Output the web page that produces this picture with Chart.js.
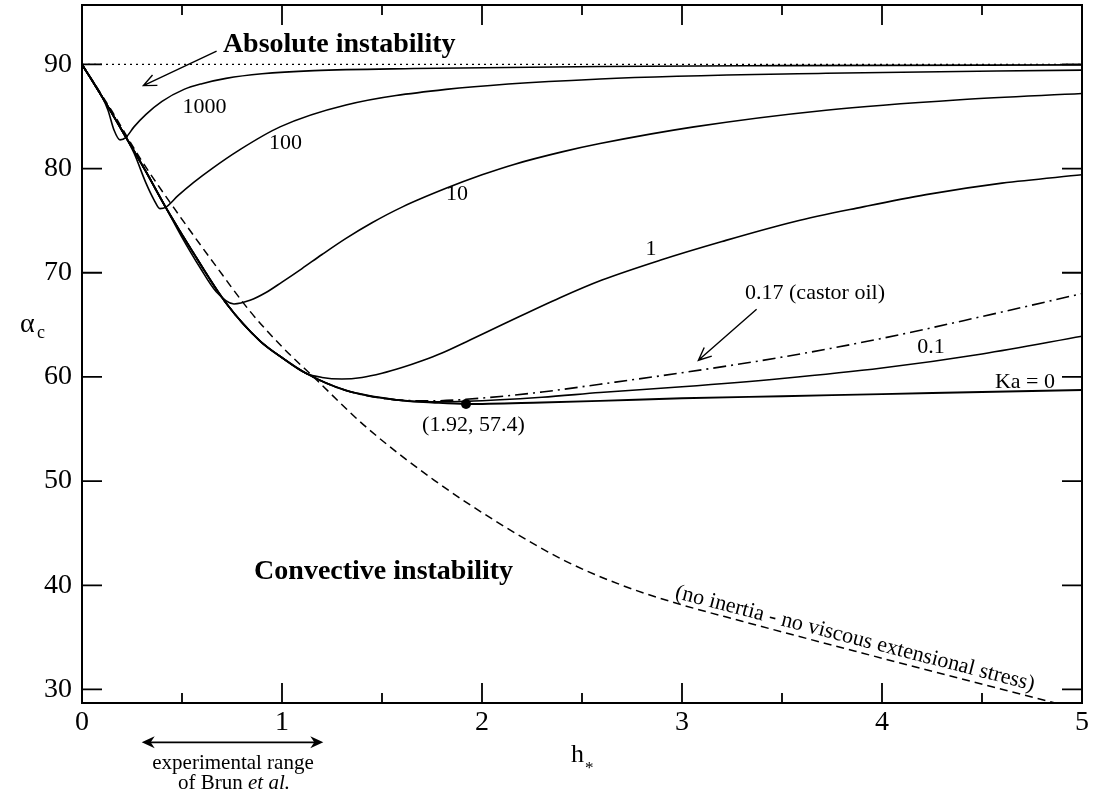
<!DOCTYPE html>
<html>
<head>
<meta charset="utf-8">
<script src="https://cdn.jsdelivr.net/npm/chart.js@4/dist/chart.umd.min.js"></script>
<style>
  html, body { margin: 0; padding: 0; background: #fff; }
  canvas { display: block; }
</style>
</head>
<body>
<canvas id="alphaChart" width="1093" height="796"></canvas>
<script>
// critical angle alpha_c vs h_* for several Ka values

const hTicks = [0, 1, 2, 3, 4, 5];
const alphaTicks = [30, 40, 50, 60, 70, 80, 90];

// alpha = 90 (dotted)
const vertical = [[0, 90], [5, 90]];

// Ka = 0 (also the envelope the other curves leave from)
const ka0 = [[0, 90], [0.1, 86.9], [0.22, 83.0], [0.32, 79.7], [0.415, 76.4], [0.57, 71.5], [0.72, 67.1],
    [0.89, 63.45], [1.0, 61.85], [1.12, 60.35], [1.32, 58.7], [1.57, 57.8], [1.75, 57.55], [1.92, 57.4],
    [2.3, 57.55], [2.59, 57.7], [3.0, 57.95], [3.5, 58.15], [4.0, 58.35], [4.5, 58.55], [5.0, 58.75]];

const ka01 = [[0, 90], [0.1, 86.9], [0.22, 83.0], [0.32, 79.7], [0.415, 76.4], [0.57, 71.5], [0.72, 67.1],
    [0.89, 63.45], [1.0, 61.85], [1.12, 60.35], [1.32, 58.7], [1.57, 57.8], [1.75, 57.6], [1.92, 57.65],
    [2.3, 58.05], [2.59, 58.5], [3.0, 59.05], [3.5, 59.85], [4.0, 60.85], [4.5, 62.2], [5.0, 63.9]];

// castor oil, Ka = 0.17 (dash-dot)
const ka017 = [[0, 90], [0.1, 86.9], [0.22, 83.0], [0.32, 79.7], [0.415, 76.4], [0.57, 71.5], [0.72, 67.1],
    [0.89, 63.45], [1.0, 61.85], [1.12, 60.35], [1.32, 58.7], [1.57, 57.8], [1.75, 57.7], [1.92, 57.85],
    [2.3, 58.55], [2.59, 59.3], [3.0, 60.4], [3.5, 61.9], [4.0, 63.7], [4.5, 65.8], [5.0, 68.0]];

const ka1 = [[0, 90], [0.1, 86.9], [0.22, 83.0], [0.32, 79.7], [0.415, 76.4], [0.57, 71.5], [0.72, 67.1],
    [0.89, 63.45], [1.0, 61.85], [1.12, 60.35], [1.2, 59.95], [1.3, 59.8], [1.4, 59.95], [1.5, 60.35],
    [1.6, 60.9], [1.7, 61.55], [1.8, 62.3], [1.94, 63.55], [2.1, 65.0], [2.39, 67.6], [2.6, 69.3],
    [2.89, 71.2], [3.2, 73.0], [3.56, 74.9], [3.9, 76.3], [4.22, 77.5], [4.6, 78.6], [5.0, 79.4]];

const ka10 = [[0, 90], [0.1, 86.9], [0.22, 83.0], [0.32, 79.7], [0.415, 76.4], [0.5, 73.4], [0.59, 70.5],
    [0.67, 68.2], [0.76, 67.0], [0.84, 67.35], [0.92, 68.1], [1.0, 69.1], [1.1, 70.4], [1.2, 71.75],
    [1.32, 73.3], [1.45, 74.8], [1.6, 76.3], [1.82, 78.1], [2.0, 79.4], [2.16, 80.4], [2.4, 81.6],
    [2.59, 82.4], [3.06, 84.0], [3.72, 85.6], [4.39, 86.6], [5.0, 87.2]];

const ka100 = [[0, 90], [0.1, 86.9], [0.22, 83.0], [0.26, 81.5], [0.32, 78.6], [0.36, 77.0], [0.39, 76.15],
    [0.42, 76.3], [0.48, 77.4], [0.56, 78.7], [0.65, 80.0], [0.78, 81.7], [0.99, 84.0], [1.32, 86.1],
    [1.82, 87.6], [2.59, 88.6], [3.72, 89.15], [5.0, 89.45]];

const ka1000 = [[0, 90], [0.1, 86.9], [0.13, 85.6], [0.16, 83.7], [0.19, 82.75], [0.22, 83.0], [0.26, 84.0],
    [0.32, 85.2], [0.4, 86.45], [0.51, 87.6], [0.6, 88.15], [0.72, 88.66], [0.9, 89.1], [1.16, 89.4],
    [1.66, 89.6], [2.59, 89.8], [3.5, 89.88], [5.0, 89.95]];

// no inertia - no viscous extensional stress (dashed)
const noInertia = [[0, 90], [0.15, 85.5], [0.29, 81.0], [0.49, 75.4], [0.66, 70.9], [0.84, 66.3], [1.0, 62.9],
    [1.16, 59.95], [1.42, 55.2], [1.76, 50.1], [2.09, 45.9], [2.42, 42.3], [2.7, 40.0], [2.95, 38.4],
    [3.3, 36.55], [3.9, 33.5], [4.4, 31.0], [4.765, 29.2], [5.0, 28.05]];

const minPoint = [[1.92, 57.4]];

const SERIF = "'Liberation Serif', 'Times New Roman', serif";

function pts(arr) {
    return arr.map(p => ({ x: p[0], y: p[1] }));
}

function curve(arr, extra) {
    return Object.assign({
        data: pts(arr),
        borderColor: '#000',
        borderWidth: 1.6,
        pointRadius: 0,
        fill: false,
        cubicInterpolationMode: 'monotone'
    }, extra || {});
}

function drawText(ctx, chart, str, h, a, font, align, baseline) {
    const x = chart.scales.x.getPixelForValue(h);
    const y = chart.scales.y.getPixelForValue(a);
    ctx.font = font;
    ctx.textAlign = align || 'center';
    ctx.textBaseline = baseline || 'alphabetic';
    ctx.fillText(str, x, y);
}

function openArrow(ctx, chart, h1, a1, h2, a2) {
    const sx = chart.scales.x, sy = chart.scales.y;
    const x1 = sx.getPixelForValue(h1), y1 = sy.getPixelForValue(a1);
    const x2 = sx.getPixelForValue(h2), y2 = sy.getPixelForValue(a2);
    const ang = Math.atan2(y2 - y1, x2 - x1);
    const len = 14, spread = 0.42;
    ctx.beginPath();
    ctx.moveTo(x1, y1);
    ctx.lineTo(x2, y2);
    ctx.moveTo(x2 - len * Math.cos(ang - spread), y2 - len * Math.sin(ang - spread));
    ctx.lineTo(x2, y2);
    ctx.lineTo(x2 - len * Math.cos(ang + spread), y2 - len * Math.sin(ang + spread));
    ctx.stroke();
}

function solidHead(ctx, x, y, dir) {
    // dir = -1 points left, 1 points right
    ctx.beginPath();
    ctx.moveTo(x, y);
    ctx.lineTo(x - dir * 13, y - 6);
    ctx.lineTo(x - dir * 9, y);
    ctx.lineTo(x - dir * 13, y + 6);
    ctx.closePath();
    ctx.fill();
}

const decorPlugin = {
    id: 'decor',
    beforeDraw(chart) {
        const ctx = chart.ctx;
        ctx.save();
        ctx.fillStyle = '#fff';
        ctx.fillRect(0, 0, chart.width, chart.height);
        ctx.restore();
    },
    afterDraw(chart) {
        const ctx = chart.ctx;
        const area = chart.chartArea;
        const sx = chart.scales.x, sy = chart.scales.y;
        ctx.save();
        ctx.strokeStyle = '#000';
        ctx.fillStyle = '#000';

        // frame
        ctx.lineWidth = 2;
        ctx.strokeRect(area.left, area.top, area.right - area.left, area.bottom - area.top);

        // inward ticks on all four sides
        ctx.lineWidth = 1.8;
        ctx.beginPath();
        hTicks.forEach((v, i) => {
            const x = sx.getPixelForValue(v);
            ctx.moveTo(x, area.bottom); ctx.lineTo(x, area.bottom - 20);
            ctx.moveTo(x, area.top); ctx.lineTo(x, area.top + 20);
            if (i < hTicks.length - 1) {
                const xm = sx.getPixelForValue((v + hTicks[i + 1]) / 2);
                ctx.moveTo(xm, area.bottom); ctx.lineTo(xm, area.bottom - 10);
                ctx.moveTo(xm, area.top); ctx.lineTo(xm, area.top + 10);
            }
        });
        alphaTicks.forEach(v => {
            const y = sy.getPixelForValue(v);
            ctx.moveTo(area.left, y); ctx.lineTo(area.left + 20, y);
            ctx.moveTo(area.right, y); ctx.lineTo(area.right - 20, y);
        });
        ctx.stroke();

        // region labels
        const bold = 'bold 28px ' + SERIF;
        const small = '22px ' + SERIF;
        drawText(ctx, chart, 'Absolute instability', 1.286, 91.2, bold);
        drawText(ctx, chart, 'Convective instability', 1.508, 40.6, bold);

        ctx.lineWidth = 1.4;
        openArrow(ctx, chart, 0.673, 91.27, 0.307, 87.96);
        openArrow(ctx, chart, 3.373, 66.5, 3.082, 61.6);

        // curve labels
        drawText(ctx, chart, '1000', 0.6125, 85.31, small);
        drawText(ctx, chart, '100', 1.017, 81.87, small);
        drawText(ctx, chart, '10', 1.875, 76.96, small);
        drawText(ctx, chart, '1', 2.845, 71.66, small);
        drawText(ctx, chart, '0.17 (castor oil)', 3.665, 67.51, small);
        drawText(ctx, chart, '0.1', 4.245, 62.34, small);
        drawText(ctx, chart, 'Ka = 0', 4.715, 58.9, small);
        drawText(ctx, chart, '(1.92, 57.4)', 1.957, 54.85, small);

        // rotated label sitting on the dashed curve
        ctx.save();
        ctx.translate(sx.getPixelForValue(3.8575), sy.getPixelForValue(34.35));
        ctx.rotate(14.5 * Math.PI / 180);
        ctx.font = small;
        ctx.textAlign = 'center';
        ctx.textBaseline = 'alphabetic';
        ctx.fillText('(no inertia - no viscous extensional stress)', 0, 0);
        ctx.restore();

        // axis titles
        const ax = sx.getPixelForValue(2.5);
        ctx.font = '26px ' + SERIF;
        ctx.textAlign = 'right';
        ctx.fillText('h', ax + 2, 762);
        ctx.font = '17px ' + SERIF;
        ctx.textAlign = 'left';
        ctx.fillText('*', ax + 3, 773);

        ctx.font = '28px ' + SERIF;
        ctx.textAlign = 'left';
        ctx.fillText('\u03b1', 20, 332);
        ctx.font = '18px ' + SERIF;
        ctx.fillText('c', 37, 338);

        // experimental range below the axis
        const xa = sx.getPixelForValue(0.2985), xb = sx.getPixelForValue(1.2065);
        const ya = sy.getPixelForValue(24.93);
        ctx.lineWidth = 1.8;
        ctx.beginPath();
        ctx.moveTo(xa + 8, ya); ctx.lineTo(xb - 8, ya);
        ctx.stroke();
        solidHead(ctx, xa, ya, -1);
        solidHead(ctx, xb, ya, 1);

        drawText(ctx, chart, 'experimental range', 0.755, 22.4, '21px ' + SERIF);
        const cx = sx.getPixelForValue(0.76), cy = sy.getPixelForValue(20.4);
        const reg = '21px ' + SERIF, ital = 'italic 21px ' + SERIF;
        ctx.font = reg;
        const w1 = ctx.measureText('of Brun ').width;
        ctx.font = ital;
        const w2 = ctx.measureText('et al.').width;
        const start = cx - (w1 + w2) / 2;
        ctx.textAlign = 'left';
        ctx.textBaseline = 'alphabetic';
        ctx.font = reg;
        ctx.fillText('of Brun ', start, cy);
        ctx.font = ital;
        ctx.fillText('et al.', start + w1, cy);

        ctx.restore();
    }
};

const canvas = document.getElementById('alphaChart');
const chart = new Chart(canvas.getContext('2d'), {
    type: 'line',
    data: {
        datasets: [
            curve(vertical, { borderWidth: 1.4, borderDash: [2, 4], cubicInterpolationMode: 'default' }),
            curve(noInertia, { borderWidth: 1.5, borderDash: [8, 5] }),
            curve(ka1000),
            curve(ka100),
            curve(ka10),
            curve(ka1),
            curve(ka017, { borderDash: [13, 5, 2, 5] }),
            curve(ka01),
            curve(ka0, { borderWidth: 1.9 }),
            {
                data: pts(minPoint),
                showLine: false,
                pointRadius: 5,
                pointBackgroundColor: '#000',
                pointBorderColor: '#000',
                pointBorderWidth: 0
            }
        ]
    },
    options: {
        responsive: false,
        animation: false,
        devicePixelRatio: 1,
        layout: { padding: { top: 3, right: 11, left: 0, bottom: 0 } },
        plugins: { legend: { display: false }, tooltip: { enabled: false } },
        scales: {
            x: {
                type: 'linear',
                min: 0,
                max: 5,
                grid: { display: false, drawTicks: false },
                border: { display: false },
                afterBuildTicks: s => { s.ticks = hTicks.map(v => ({ value: v })); },
                afterFit: s => { s.height = 93; s.paddingLeft = 0; s.paddingRight = 0; },
                ticks: {
                    color: '#000',
                    font: { family: SERIF, size: 28 },
                    padding: 3,
                    maxRotation: 0,
                    autoSkip: false
                }
            },
            y: {
                type: 'linear',
                min: 28.7,
                max: 95.7,
                grid: { display: false, drawTicks: false },
                border: { display: false },
                afterBuildTicks: s => { s.ticks = alphaTicks.map(v => ({ value: v })); },
                afterFit: s => { s.width = 82; s.paddingTop = 0; s.paddingBottom = 0; },
                ticks: {
                    color: '#000',
                    font: { family: SERIF, size: 28 },
                    padding: 10,
                    autoSkip: false
                }
            }
        }
    },
    plugins: [decorPlugin]
});
</script>
</body>
</html>
